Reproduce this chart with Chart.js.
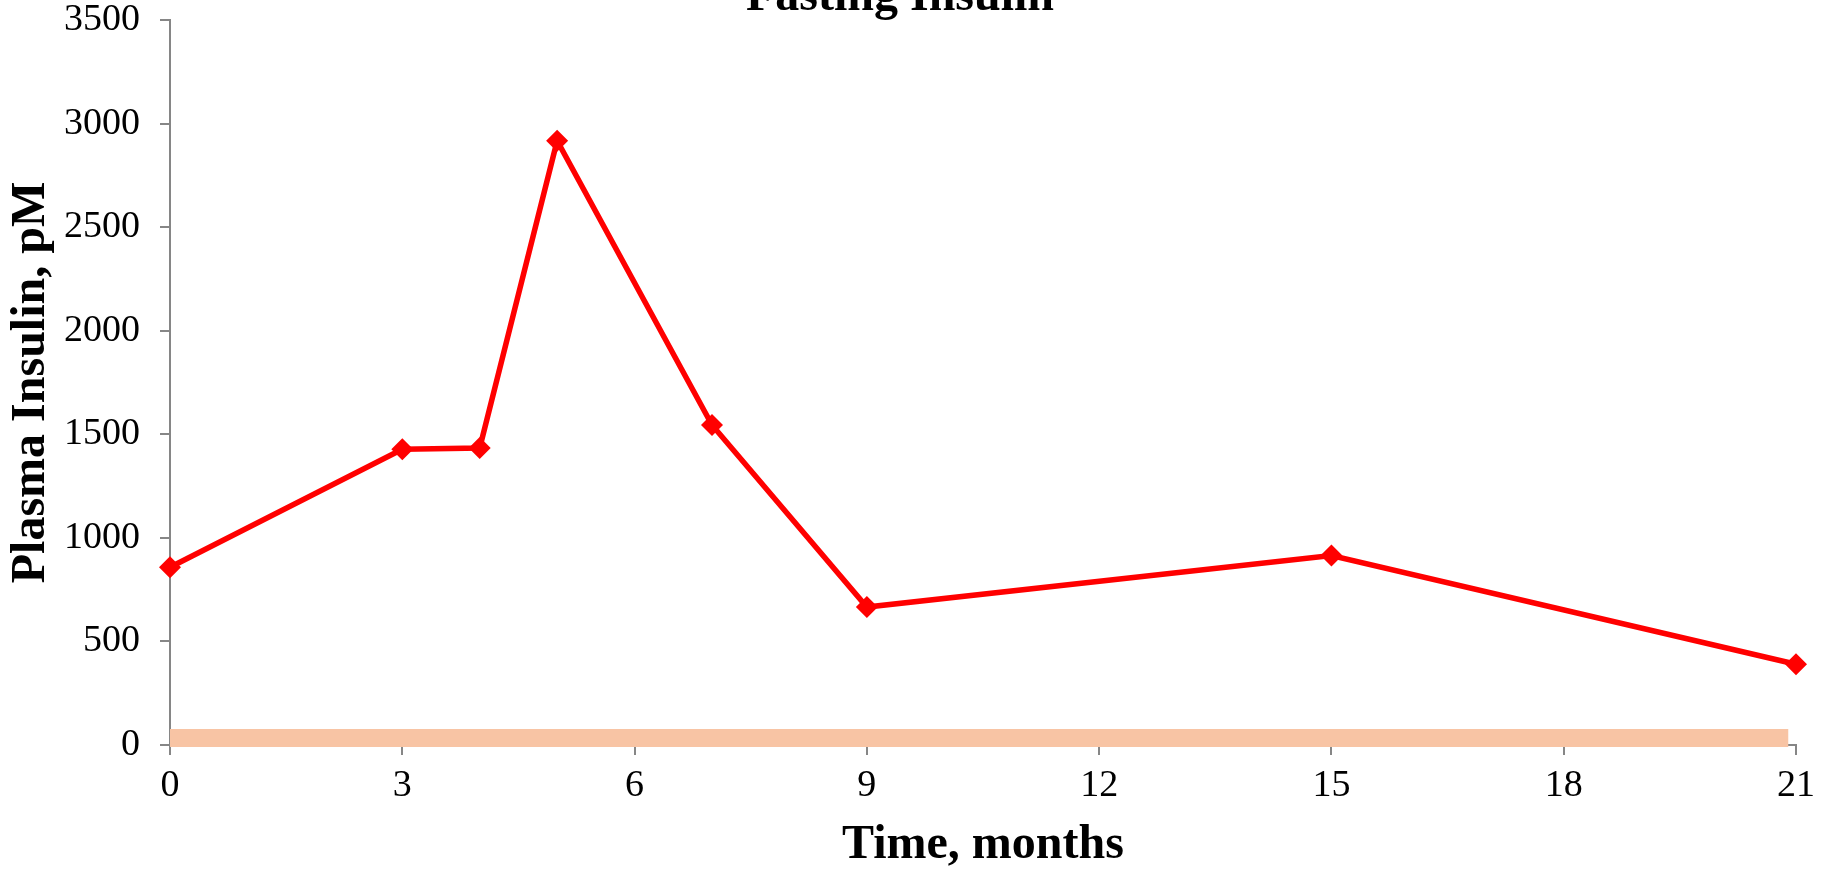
<!DOCTYPE html>
<html>
<head>
<meta charset="utf-8">
<title>Fasting Insulin</title>
<script src="https://cdn.jsdelivr.net/npm/chart.js@4/dist/chart.umd.min.js"></script>
<style>
  html, body { margin: 0; padding: 0; background: #fff; }
  #wrap { width: 1830px; height: 872px; }
</style>
</head>
<body>
<div id="wrap"><canvas id="insulinChart" width="1830" height="872"></canvas></div>
<script>
const months = [0, 3, 4, 5, 7, 9, 15, 21];
const insulin = [858, 1428, 1434, 2917, 1545, 666, 915, 390];

// pale band along the bottom of the plot
const bandMonths = [0, 20.9];
const bandLevel = [34, 34];

const xTicks = { min: 0, max: 21, step: 3 };
const yTicks = { min: 0, max: 3500, step: 500 };

const SERIF = "'Times New Roman', 'Liberation Serif', serif";
const AXIS_GREY = '#868686';

// title sits mostly above the top edge of the picture
const topTitle = {
  id: 'topTitle',
  afterDraw(chart) {
    const ctx = chart.ctx;
    ctx.save();
    ctx.font = `bold 48px ${SERIF}`;
    ctx.fillStyle = '#000';
    ctx.textAlign = 'center';
    ctx.textBaseline = 'alphabetic';
    ctx.fillText('Fasting Insulin', 900, 10);
    ctx.restore();
  }
};

function toPoints(xs, ys) {
  return xs.map((x, i) => ({ x, y: ys[i] }));
}

function initChart() {
  const ctx = document.getElementById('insulinChart')?.getContext('2d');
  if (!ctx) {
    console.error('initChart: canvas "insulinChart" not found');
    return;
  }

  new Chart(ctx, {
    type: 'line',
    data: {
      datasets: [
        {
          label: 'Plasma Insulin',
          data: toPoints(months, insulin),
          borderColor: '#FF0000',
          backgroundColor: '#FF0000',
          borderWidth: 5.5,
          tension: 0,
          clip: false,
          pointStyle: 'rectRot',
          pointRadius: 11,
          pointBorderWidth: 0,
          pointBackgroundColor: '#FF0000'
        },
        {
          label: 'band',
          data: toPoints(bandMonths, bandLevel),
          borderColor: '#F8C4A4',
          borderWidth: 18,
          borderCapStyle: 'butt',
          clip: false,
          pointRadius: 0,
          tension: 0
        }
      ]
    },
    options: {
      responsive: false,
      animation: false,
      layout: {
        padding: { top: 20, right: 34, bottom: 0, left: 0 }
      },
      plugins: {
        legend: { display: false },
        tooltip: { enabled: false },
        title: { display: false }
      },
      scales: {
        x: {
          type: 'linear',
          min: xTicks.min,
          max: xTicks.max,
          afterFit: scale => { scale.height = 127; },
          border: { display: true, color: AXIS_GREY, width: 2 },
          grid: {
            display: true,
            drawOnChartArea: false,
            drawTicks: true,
            tickLength: 10,
            color: AXIS_GREY,
            lineWidth: 2
          },
          ticks: {
            stepSize: xTicks.step,
            padding: 8,
            color: '#000',
            maxRotation: 0,
            callback: v => String(v),
            font: { family: SERIF, size: 38, lineHeight: 1.2 }
          },
          title: {
            display: true,
            text: 'Time, months',
            color: '#000',
            padding: { top: 8, bottom: 0 },
            font: { family: SERIF, size: 48, weight: 'bold', lineHeight: 1.1 }
          }
        },
        y: {
          min: yTicks.min,
          max: yTicks.max,
          afterFit: scale => {
            scale.width = 170;
            scale.paddingTop = 0;
            scale.paddingBottom = 0;
          },
          border: { display: true, color: AXIS_GREY, width: 2 },
          grid: {
            display: true,
            drawOnChartArea: false,
            drawTicks: true,
            tickLength: 10,
            color: AXIS_GREY,
            lineWidth: 2
          },
          ticks: {
            stepSize: yTicks.step,
            padding: 20,
            color: '#000',
            callback: v => String(v),
            font: { family: SERIF, size: 38, lineHeight: 1.0 }
          },
          title: {
            display: true,
            text: 'Plasma Insulin, pM',
            color: '#000',
            padding: { top: 5, bottom: 0 },
            font: { family: SERIF, size: 48, weight: 'bold', lineHeight: 1.1 }
          }
        }
      }
    },
    plugins: [topTitle]
  });
}

window.addEventListener('DOMContentLoaded', () => {
  initChart();
});
</script>
</body>
</html>
